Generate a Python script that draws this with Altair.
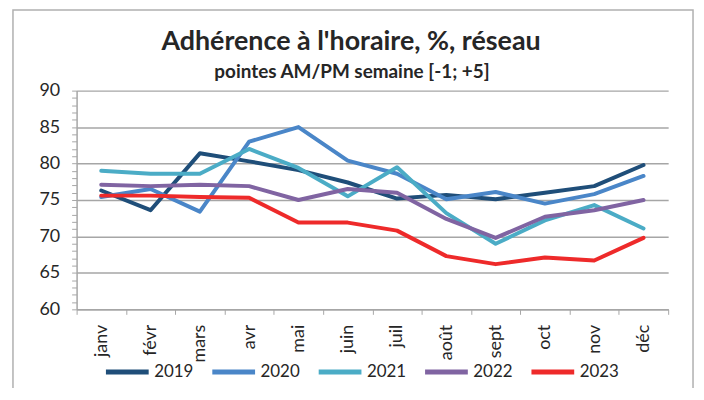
import altair as alt
import pandas as pd

months = ["janv", "févr", "mars", "avr", "mai", "juin", "juil", "août", "sept", "oct", "nov", "déc"]
years = ["2019", "2020", "2021", "2022", "2023"]
y2019 = [76.3, 73.6, 81.4, 80.3, 79.1, 77.4, 75.2, 75.7, 75.1, 76.0, 76.9, 79.8]
y2020 = [75.4, 76.5, 73.4, 83.0, 85.0, 80.4, 78.6, 75.1, 76.1, 74.5, 75.8, 78.3]
y2021 = [79.0, 78.6, 78.6, 82.0, 79.4, 75.5, 79.5, 73.2, 69.0, 72.2, 74.3, 71.1]
y2022 = [77.1, 76.9, 77.1, 76.9, 75.0, 76.5, 76.0, 72.4, 69.8, 72.7, 73.6, 75.0]
y2023 = [75.6, 75.6, 75.4, 75.3, 71.9, 71.9, 70.8, 67.3, 66.2, 67.1, 66.7, 69.8]
colors = ["#1f4e79", "#4a86c8", "#4bacc6", "#8064a2", "#ee2a2a"]

title_text = "Adhérence à l'horaire, %, réseau"
subtitle_text = "pointes AM/PM semaine [-1; +5]"

rows = []
for yr, vals in zip(years, [y2019, y2020, y2021, y2022, y2023]):
    for m, v in zip(months, vals):
        rows.append({"mois": m, "annee": yr, "val": v})
df = pd.DataFrame(rows)

W, H = 595, 220
FONT = "Lato"
TXT = "#262626"
GRID = "#a6a6a6"

one = alt.Data(values=[{"a": 1}])

frame = alt.Chart(one).mark_rect(fillOpacity=0, stroke="#b0b0b0", strokeWidth=1.5).encode(
    x=alt.value(-64), x2=alt.value(620), y=alt.value(-81), y2=alt.value(420)
)

lines = alt.Chart(df).mark_line(strokeWidth=4, strokeJoin="round", strokeCap="round").encode(
    x=alt.X(
        "mois:N", sort=months, bandPosition=0.5,
        scale=alt.Scale(type="band", paddingInner=0, paddingOuter=0),
        axis=alt.Axis(
            title=None, labelAngle=-90, tickBand="extent", tickSize=5, labelPadding=10,
            labelFontSize=18, labelFont=FONT, labelColor=TXT, domainColor=GRID,
            tickColor=GRID, grid=False, domainWidth=1.5,
        ),
    ),
    y=alt.Y(
        "val:Q", scale=alt.Scale(domain=[60, 90], nice=False, zero=False),
        axis=alt.Axis(
            title=None, values=list(range(60, 91)),
            labelExpr="datum.value % 5 === 0 ? datum.label : ''",
            labelOverlap=False,
            gridOpacity=alt.condition("datum.value % 5 === 0", alt.value(1), alt.value(0)),
            gridColor=GRID, gridWidth=1.5, tickSize=5, labelPadding=12,
            labelFontSize=18, labelFont=FONT, labelColor=TXT, domainColor=GRID,
            tickColor=GRID, domainWidth=1.5,
        ),
    ),
    color=alt.Color(
        "annee:N", scale=alt.Scale(domain=years, range=colors),
        legend=alt.Legend(
            orient="none", legendX=27, legendY=259, direction="horizontal", columns=5,
            title=None, symbolType="stroke", symbolStrokeWidth=5, symbolSize=1849,
            labelFontSize=17, labelFont=FONT, labelColor=TXT, columnPadding=8, labelOffset=3,
        ),
    ),
)

title = alt.Chart(one).mark_text(
    font=FONT, fontSize=27, fontWeight="bold", color=TXT, align="center", baseline="alphabetic"
).encode(x=alt.value(276), y=alt.value(-41), text=alt.value(title_text))

subtitle = alt.Chart(one).mark_text(
    font=FONT, fontSize=19, fontWeight="bold", color=TXT, align="center", baseline="alphabetic"
).encode(x=alt.value(277), y=alt.value(-13), text=alt.value(subtitle_text))

chart = alt.layer(frame, lines, title, subtitle).properties(
    width=W, height=H,
    padding={"left": 69, "top": 82, "right": 28, "bottom": 78},
    autosize=alt.AutoSizeParams(type="none"),
).configure_view(stroke=None)

chart.save("out.html", embed_options={"renderer": "svg", "actions": False})
